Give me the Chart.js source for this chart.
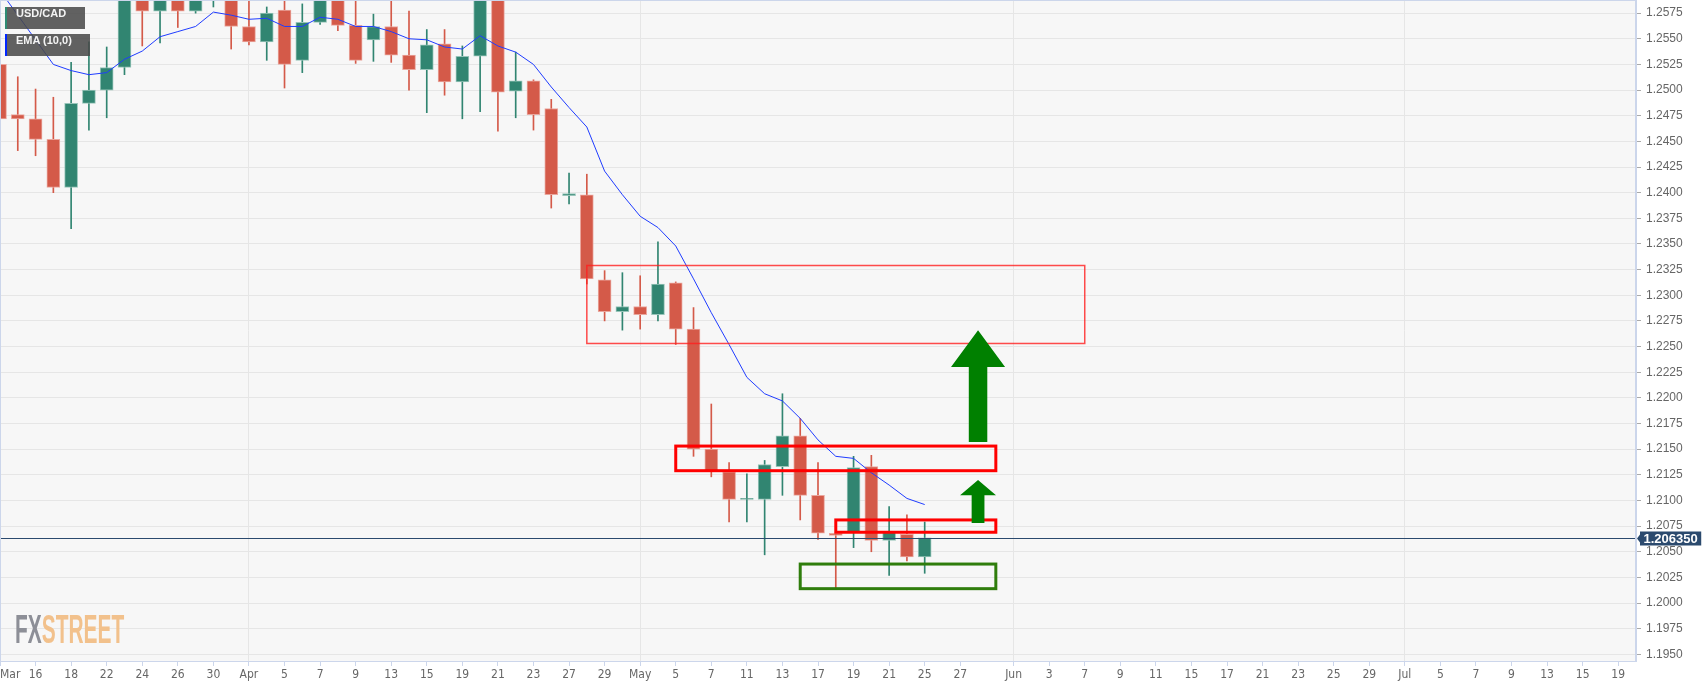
<!DOCTYPE html>
<html lang="en">
<head>
<meta charset="UTF-8">
<title>USD/CAD daily</title>
<script src="https://cdn.jsdelivr.net/npm/chart.js"></script>
<style>
  html, body { margin: 0; padding: 0; background: #fff; }
  .wrap { position: relative; width: 1707px; height: 687px; overflow: hidden; }
  .badge {
    position: absolute; left: 5px; height: 22px; line-height: 22px;
    box-sizing: border-box; padding-left: 9px;
    background: rgba(72, 72, 72, 0.86); color: #f4f4f4;
    font: bold 11px "Liberation Sans", Arial, sans-serif;
  }
  .logo {
    position: absolute; left: 15px; top: 606px;
    font: bold 41px "Liberation Sans", Arial, sans-serif; letter-spacing: 0;
    transform: scaleX(0.51); transform-origin: left top; white-space: nowrap;
  }
  .logo .fx { color: #8d8f97; }
  .logo .st { color: #f2c18c; }
</style>
</head>
<body>
<div class="wrap">
  <canvas id="fxChart"></canvas>
  <div class="badge" style="top:7px;width:80px;border-left:2px solid #2e8b73">USD/CAD</div>
  <div class="badge" style="top:34px;width:85px;border-left:2px solid #0026ff">EMA (10,0)</div>
  <div class="logo"><span class="fx">FX</span><span class="st">STREET</span></div>
</div>

<script>
// trading days on the axis (Mar 12 .. Jul 20, 2021)
const categories = [
  '2021-03-12', '2021-03-15', '2021-03-16', '2021-03-17', '2021-03-18', '2021-03-19',
  '2021-03-22', '2021-03-23', '2021-03-24', '2021-03-25', '2021-03-26',
  '2021-03-29', '2021-03-30', '2021-03-31', '2021-04-01', '2021-04-02',
  '2021-04-05', '2021-04-06', '2021-04-07', '2021-04-08', '2021-04-09',
  '2021-04-12', '2021-04-13', '2021-04-14', '2021-04-15', '2021-04-16',
  '2021-04-19', '2021-04-20', '2021-04-21', '2021-04-22', '2021-04-23',
  '2021-04-26', '2021-04-27', '2021-04-28', '2021-04-29', '2021-04-30',
  '2021-05-03', '2021-05-04', '2021-05-05', '2021-05-06', '2021-05-07',
  '2021-05-10', '2021-05-11', '2021-05-12', '2021-05-13', '2021-05-14',
  '2021-05-17', '2021-05-18', '2021-05-19', '2021-05-20', '2021-05-21',
  '2021-05-24', '2021-05-25', '2021-05-26', '2021-05-27', '2021-05-28',
  '2021-05-31', '2021-06-01', '2021-06-02', '2021-06-03', '2021-06-04',
  '2021-06-07', '2021-06-08', '2021-06-09', '2021-06-10', '2021-06-11',
  '2021-06-14', '2021-06-15', '2021-06-16', '2021-06-17', '2021-06-18',
  '2021-06-21', '2021-06-22', '2021-06-23', '2021-06-24', '2021-06-25',
  '2021-06-28', '2021-06-29', '2021-06-30', '2021-07-01', '2021-07-02',
  '2021-07-05', '2021-07-06', '2021-07-07', '2021-07-08', '2021-07-09',
  '2021-07-12', '2021-07-13', '2021-07-14', '2021-07-15', '2021-07-16',
  '2021-07-19', '2021-07-20'
];

// x tick labels
const tickDates = [
  '2021-03-12', '2021-03-16', '2021-03-18', '2021-03-22', '2021-03-24', '2021-03-26', '2021-03-30',
  '2021-04-01', '2021-04-05', '2021-04-07', '2021-04-09', '2021-04-13', '2021-04-15', '2021-04-19',
  '2021-04-21', '2021-04-23', '2021-04-27', '2021-04-29',
  '2021-05-03', '2021-05-05', '2021-05-07', '2021-05-11', '2021-05-13', '2021-05-17', '2021-05-19',
  '2021-05-21', '2021-05-25', '2021-05-27',
  '2021-06-01', '2021-06-03', '2021-06-07', '2021-06-09', '2021-06-11', '2021-06-15', '2021-06-17',
  '2021-06-21', '2021-06-23', '2021-06-25', '2021-06-29',
  '2021-07-01', '2021-07-05', '2021-07-07', '2021-07-09', '2021-07-13', '2021-07-15', '2021-07-19'
];
const tickText = [
  'Mar', '16', '18', '22', '24', '26', '30',
  'Apr', '5', '7', '9', '13', '15', '19', '21', '23', '27', '29',
  'May', '5', '7', '11', '13', '17', '19', '21', '25', '27',
  'Jun', '3', '7', '9', '11', '15', '17', '21', '23', '25', '29',
  'Jul', '5', '7', '9', '13', '15', '19'
];
const monthStarts = ['2021-04-01', '2021-05-03', '2021-06-01', '2021-07-01'];

// daily candles, Mar 12 .. May 25
const open = [
  1.2525, 1.2476, 1.2472, 1.2452, 1.2405, 1.2487, 1.2500, 1.2522, 1.2610, 1.2577,
  1.2605, 1.2577, 1.2600, 1.2610, 1.2562, 1.2547, 1.2578, 1.2529, 1.2566, 1.2598,
  1.2563, 1.2549, 1.2562, 1.2534, 1.2520, 1.2545, 1.2508, 1.2533, 1.2625, 1.2499,
  1.2509, 1.2482, 1.2397, 1.2398, 1.2315, 1.2284, 1.2289, 1.2281, 1.2312, 1.2267,
  1.2150, 1.2128, 1.2101, 1.2101, 1.2133, 1.2163, 1.2105, 1.2068, 1.2069, 1.2133,
  1.2061, 1.2067, 1.2045
];
const high = [
  1.2573, 1.2513, 1.2501, 1.2493, 1.2527, 1.2547, 1.2542, 1.2605, 1.2622, 1.2612,
  1.2615, 1.2618, 1.2630, 1.2620, 1.2595, 1.2581, 1.2595, 1.2584, 1.2600, 1.2605,
  1.2595, 1.2574, 1.2600, 1.2577, 1.2559, 1.2559, 1.2543, 1.2640, 1.2635, 1.2537,
  1.2510, 1.2491, 1.2419, 1.2418, 1.2324, 1.2322, 1.2319, 1.2352, 1.2313, 1.2288,
  1.2194, 1.2137, 1.2126, 1.2139, 1.2204, 1.2180, 1.2137, 1.2069, 1.2143, 1.2144,
  1.2094, 1.2086, 1.2079
];
const low = [
  1.2462, 1.2441, 1.2436, 1.2400, 1.2365, 1.2461, 1.2473, 1.2515, 1.2543, 1.2546,
  1.2561, 1.2575, 1.2581, 1.2540, 1.2544, 1.2529, 1.2502, 1.2517, 1.2564, 1.2558,
  1.2526, 1.2528, 1.2527, 1.2500, 1.2478, 1.2495, 1.2472, 1.2479, 1.2460, 1.2473,
  1.2461, 1.2385, 1.2389, 1.2311, 1.2275, 1.2266, 1.2267, 1.2275, 1.2252, 1.2143,
  1.2123, 1.2079, 1.2079, 1.2047, 1.2105, 1.2081, 1.2062, 1.2014, 1.2054, 1.2050,
  1.2027, 1.2041, 1.2029
];
const close = [
  1.2472, 1.2472, 1.2452, 1.2405, 1.2487, 1.2500, 1.2522, 1.2598, 1.2577, 1.2600,
  1.2577, 1.2608, 1.2615, 1.2562, 1.2547, 1.2575, 1.2525, 1.2566, 1.2595, 1.2563,
  1.2529, 1.2562, 1.2534, 1.2520, 1.2544, 1.2508, 1.2533, 1.2625, 1.2498, 1.2509,
  1.2476, 1.2398, 1.2399, 1.2316, 1.2284, 1.2289, 1.2281, 1.2311, 1.2267, 1.2150,
  1.2128, 1.2101, 1.2102, 1.2135, 1.2163, 1.2105, 1.2068, 1.2066, 1.2132, 1.2061,
  1.2069, 1.2045, 1.20635
];
const ema10 = [
  1.2597, 1.2573, 1.2549, 1.2525, 1.2519, 1.2515, 1.2517, 1.2530, 1.2538, 1.2552,
  1.2557, 1.2562, 1.2576, 1.2573, 1.2569, 1.2570, 1.2562, 1.2562, 1.2571, 1.2569,
  1.2562, 1.2562, 1.2557, 1.2550, 1.2549, 1.2542, 1.2540, 1.2553, 1.2543, 1.2537,
  1.2525, 1.2503, 1.2483, 1.2464, 1.2421, 1.2398, 1.2377, 1.2366, 1.2348, 1.2316,
  1.2283, 1.2252, 1.2220, 1.2204, 1.2197, 1.2180, 1.2159, 1.2143, 1.2141, 1.2127,
  1.2115, 1.2102, 1.2096
];

// drawn zones and arrows (dates + price levels)
const zones = [
  { from: '2021-04-28', to: '2021-06-07', top: 1.2329, bottom: 1.2253, color: 'rgba(255,30,30,0.8)', width: 1.5 },
  { from: '2021-05-05', to: '2021-05-31', top: 1.2153, bottom: 1.2129, color: '#ff0000', width: 3 },
  { from: '2021-05-18', to: '2021-05-31', top: 1.2081, bottom: 1.2069, color: '#ff0000', width: 3 },
  { from: '2021-05-14', to: '2021-05-31', top: 1.2038, bottom: 1.2014, color: '#2f7d0c', width: 3 }
];
const arrows = [
  { at: '2021-05-28', tip: 1.2266, base: 1.2230, tail: 1.2157, head: 1.52, shaft: 0.52 },
  { at: '2021-05-28', tip: 1.2120, base: 1.2105, tail: 1.2078, head: 1.01, shaft: 0.36 }
];

const RED = '#d45a49', RED_EDGE = '#eaa79e';
const GREEN = '#318571', GREEN_EDGE = '#97c4b9';
const isUp = close.map((c, i) => c >= open[i]);
const tickMap = new Map(tickDates.map((d, i) => [d, tickText[i]]));

const plotBackground = {
  id: 'plotBackground',
  beforeDraw(chart) {
    const { ctx, chartArea: a } = chart;
    ctx.save();
    ctx.fillStyle = '#f7f7f7';
    ctx.fillRect(a.left, a.top, a.right - a.left, a.bottom - a.top);
    ctx.restore();
  }
};

const overlays = {
  id: 'overlays',
  afterDatasetsDraw(chart) {
    const { ctx, chartArea: a } = chart;
    const xs = chart.scales.x, ys = chart.scales.y;
    const idx = d => categories.indexOf(d);
    ctx.save();

    zones.forEach(z => {
      const x0 = xs.getPixelForValue(idx(z.from)), x1 = xs.getPixelForValue(idx(z.to));
      const y0 = ys.getPixelForValue(z.top), y1 = ys.getPixelForValue(z.bottom);
      ctx.strokeStyle = z.color;
      ctx.lineWidth = z.width;
      ctx.strokeRect(x0, y0, x1 - x0, y1 - y0);
    });

    ctx.fillStyle = '#008000';
    arrows.forEach(ar => {
      const c = idx(ar.at);
      const px = v => xs.getPixelForValue(v);
      const tipY = ys.getPixelForValue(ar.tip), baseY = ys.getPixelForValue(ar.base), tailY = ys.getPixelForValue(ar.tail);
      ctx.beginPath();
      ctx.moveTo(px(c), tipY);
      ctx.lineTo(px(c + ar.head), baseY);
      ctx.lineTo(px(c + ar.shaft), baseY);
      ctx.lineTo(px(c + ar.shaft), tailY);
      ctx.lineTo(px(c - ar.shaft), tailY);
      ctx.lineTo(px(c - ar.shaft), baseY);
      ctx.lineTo(px(c - ar.head), baseY);
      ctx.closePath();
      ctx.fill();
    });

    // last price line
    const last = close[close.length - 1];
    const y = Math.round(ys.getPixelForValue(last)) + 0.5;
    ctx.strokeStyle = '#2b4a6e';
    ctx.lineWidth = 1;
    ctx.beginPath();
    ctx.moveTo(a.left, y);
    ctx.lineTo(a.right, y);
    ctx.stroke();

    // frame
    ctx.strokeStyle = '#ccd6eb';
    ctx.strokeRect(a.left + 0.5, a.top + 0.5, a.right - a.left - 1, a.bottom - a.top);
    ctx.restore();
  },
  afterDraw(chart) {
    const { ctx, chartArea: a } = chart;
    const ys = chart.scales.y;
    const last = close[close.length - 1];
    const y = Math.round(ys.getPixelForValue(last)) + 0.5;
    const label = last.toFixed(6);
    ctx.save();
    ctx.font = 'bold 13px "Liberation Sans", Arial, sans-serif';
    const w = ctx.measureText(label).width + 7;
    const x0 = a.right + 4;
    ctx.fillStyle = '#2b4a6e';
    ctx.beginPath();
    ctx.moveTo(a.right + 1, y);
    ctx.lineTo(x0, y - 4);
    ctx.lineTo(x0, y - 7);
    ctx.lineTo(x0 + w, y - 7);
    ctx.lineTo(x0 + w, y + 7);
    ctx.lineTo(x0, y + 7);
    ctx.lineTo(x0, y + 4);
    ctx.closePath();
    ctx.fill();
    ctx.fillStyle = '#ffffff';
    ctx.textBaseline = 'middle';
    ctx.fillText(label, x0 + 3.5, y + 0.5);
    ctx.restore();
  }
};

new Chart(document.getElementById('fxChart'), {
  type: 'bar',
  data: {
    labels: categories,
    datasets: [
      {
        type: 'line',
        label: 'EMA (10,0)',
        data: ema10,
        borderColor: '#1f3cff',
        borderWidth: 1,
        pointRadius: 0,
        tension: 0,
        order: 0
      },
      {
        label: 'body',
        data: open.map((o, i) => [o, close[i]]),
        backgroundColor: isUp.map(u => u ? GREEN : RED),
        borderColor: isUp.map(u => u ? GREEN_EDGE : RED_EDGE),
        borderWidth: 1,
        borderSkipped: false,
        barThickness: 13,
        grouped: false,
        order: 1
      },
      {
        label: 'wick',
        data: low.map((l, i) => [l, high[i]]),
        backgroundColor: isUp.map(u => u ? GREEN : RED),
        borderWidth: 0,
        barThickness: 1,
        grouped: false,
        order: 2
      }
    ]
  },
  options: {
    responsive: true,
    maintainAspectRatio: false,
    animation: false,
    layout: { padding: 0 },
    plugins: { legend: { display: false }, tooltip: { enabled: false } },
    scales: {
      x: {
        type: 'category',
        offset: false,
        grid: {
          offset: false,
          color: ctx => monthStarts.includes(categories[ctx.index]) ? '#e6e6e6' : 'rgba(0,0,0,0)',
          tickLength: 5,
          tickColor: ctx => tickMap.has(categories[ctx.index]) ? '#ccd6eb' : 'rgba(0,0,0,0)'
        },
        border: { color: '#ccd6eb' },
        ticks: {
          autoSkip: false,
          maxRotation: 0,
          minRotation: 0,
          align: 'inner',
          padding: 2,
          color: '#666666',
          font: { family: '"Liberation Sans Narrow", "DejaVu Sans Condensed", Arial, sans-serif', size: 12 },
          callback: (v, i) => tickMap.get(categories[i]) || ''
        },
        afterFit(scale) {
          scale.height = 26;
          scale.paddingLeft = 0;
          scale.paddingRight = 0;
        }
      },
      y: {
        position: 'right',
        min: 1.19435,
        max: 1.25878,
        grid: { color: '#e6e6e6', tickLength: 5, tickColor: '#aaaaaa' },
        border: { color: '#ccd6eb' },
        ticks: {
          stepSize: 0.0025,
          includeBounds: false,
          padding: 5,
          color: '#666666',
          font: { family: '"Liberation Sans", Arial, sans-serif', size: 12 },
          callback: v => Number(v).toFixed(4)
        },
        afterFit(scale) {
          scale.width = 71;
          scale.paddingTop = 0;
          scale.paddingBottom = 0;
        }
      }
    }
  },
  plugins: [plotBackground, overlays]
});
</script>
</body>
</html>
